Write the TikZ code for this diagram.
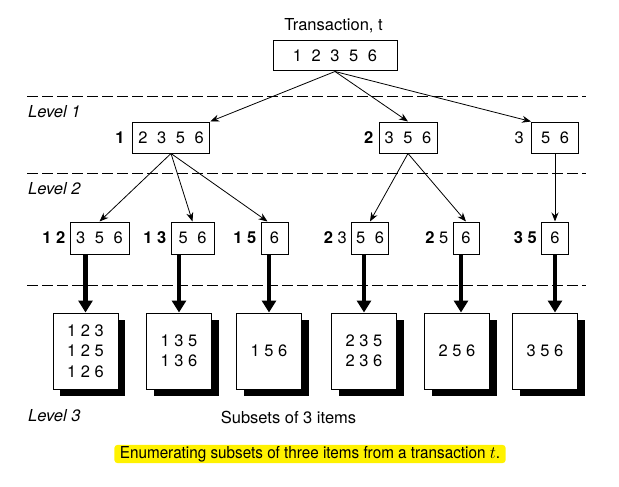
\documentclass[tikz,border=0pt]{standalone}
\usepackage{fontspec}
\setmainfont{TeX Gyre Heros}
\newfontfamily\narrowfont[FakeStretch=0.925]{TeX Gyre Heros}
\usepackage{tikz}
\usetikzlibrary{positioning}
\usetikzlibrary{arrows.meta}
\usetikzlibrary{shadows}
\usetikzlibrary{calc}
\usetikzlibrary{math}
\newcommand{\figfont}{\fontsize{16.5}{20.5}\selectfont}
\tikzstyle{itembox} = [draw=black, line width=1pt, inner sep=0pt, minimum height=31pt, text centered, execute at begin node={\spaceskip=0.58em\relax}]
\tikzstyle{lead} = [inner sep=0pt]
\tikzstyle{subsetbox} = [draw=black, line width=1pt, fill=white, minimum width=65pt, minimum height=76pt, align=center, drop shadow={shadow xshift=7pt, shadow yshift=-7pt, fill=black, opacity=1}]
\tikzstyle{levelname} = [anchor=west, inner sep=0pt, font=\figfont\itshape]
\tikzstyle{levelline} = [line width=1pt, dash pattern=on 11pt off 4pt]
\tikzstyle{arrow} = [-{Stealth[length=9pt,width=7pt]}, line width=0.8pt]
\tikzstyle{fat} = [line width=4.5pt, -{Triangle[length=12pt,width=14pt]}]

\begin{document}
\begin{tikzpicture}[x=1pt, y=-1pt, font=\figfont, node distance=4pt]

  \tikzmath{\ytop = 56; \yone = 137.5; \ytwo = 238; \ythree = 351;}
  \useasboundingbox (0,0) rectangle (619,487);

  % level lines
  \foreach \y in {97,173,285}
    \draw[levelline] (27,\y) -- (586,\y);

  \node[levelname] (lv1) at (28,112) {Level 1};
  \node[levelname] (lv2) at (28,189) {Level 2};
  \node[levelname] (lv3) at (28,416) {Level 3};

  % transaction
  \node (title) at (333.5,26) {Transaction, t};
  \node[itembox, minimum width=124pt, minimum height=30pt] (t) at (335,\ytop) {1 2 3 5 6};

  % Level 1
  \node[itembox, minimum width=77.5pt] (n1) at (171,\yone) {2 3 5 6};
  \node[itembox, minimum width=58pt] (n2) at (408,\yone) {3 5 6};
  \node[itembox, minimum width=47pt] (n3) at (555,\yone) {5 6};
  \node[lead, left=7pt of n1] (p1) {\textbf{1}};
  \node[lead, left=5pt of n2] (p2) {\textbf{2}};
  \node[lead, left=7pt of n3] (p3) {3};

  % Level 2
  \node[itembox, minimum width=59pt, minimum height=32pt] (n12) at (99.5,\ytwo) {3 5 6};
  \node[itembox, minimum width=43pt, minimum height=32pt] (n13) at (192.5,\ytwo) {5 6};
  \node[itembox, minimum width=27pt, minimum height=32pt] (n15) at (274.5,\ytwo) {6};
  \node[itembox, minimum width=37pt, minimum height=32pt] (n23) at (370,\ytwo) {5 6};
  \node[itembox, minimum width=26pt, minimum height=32pt] (n25) at (466,\ytwo) {6};
  \node[itembox, minimum width=27pt, minimum height=32pt] (n35) at (555,\ytwo) {6};
  \node[lead, left=of n12] (p12) {\textbf{1 2}};
  \node[lead, left=of n13] (p13) {\textbf{1 3}};
  \node[lead, left=of n15] (p15) {\textbf{1 5}};
  \node[lead, left=of n23] (p23) {\textbf{2} 3};
  \node[lead, left=of n25] (p25) {\textbf{2} 5};
  \node[lead, left=of n35] (p35) {\textbf{3 5}};

  % Level 3
  \node[subsetbox] (s1) at (85.5,\ythree) {1 2 3\\1 2 5\\1 2 6};
  \node[subsetbox] (s2) at (179,\ythree) {1 3 5\\1 3 6};
  \node[subsetbox] (s3) at (269,\ythree) {1 5 6};
  \node[subsetbox] (s4) at (364,\ythree) {2 3 5\\2 3 6};
  \node[subsetbox] (s5) at (457,\ythree) {2 5 6};
  \node[subsetbox] (s6) at (545,\ythree) {3 5 6};

  \node (sub) at (288.5,417) {Subsets of 3 items};

  % thin arrows
  \draw[arrow] (t.south) -- (n1.north east);
  \draw[arrow] (t.south) -- (n2.north);
  \draw[arrow] (t.south) -- (n3.north west);
  \foreach \b in {n12,n13}
    \draw[arrow] (n1.south) -- (\b.north);
  \draw[arrow] (n1.south) -- ($(n15.north)+(-7,0)$);
  \foreach \b in {n23,n25}
    \draw[arrow] (n2.south) -- (\b.north);
  \draw[arrow] (n3.south) -- (n35.north);

  % thick arrows
  \foreach \a/\b in {n12/s1,n13/s2,n15/s3,n23/s4}
    \draw[fat] (\a.south -| \b.north) -- (\b.north);
  \draw[fat] ($(n25.south)+(-5,0)$) -- ($(s5.north)+(4,0)$);
  \draw[fat] (n35.south) -- (n35.south |- s6.north);

  % caption
  \node[fill=yellow, rounded corners=3pt, inner xsep=5.5pt, inner ysep=1.2pt, font=\figfont\narrowfont] (cap) at (310,454)
    {Enumerating subsets of three items from a transaction $t$.};

\end{tikzpicture}
\end{document}
